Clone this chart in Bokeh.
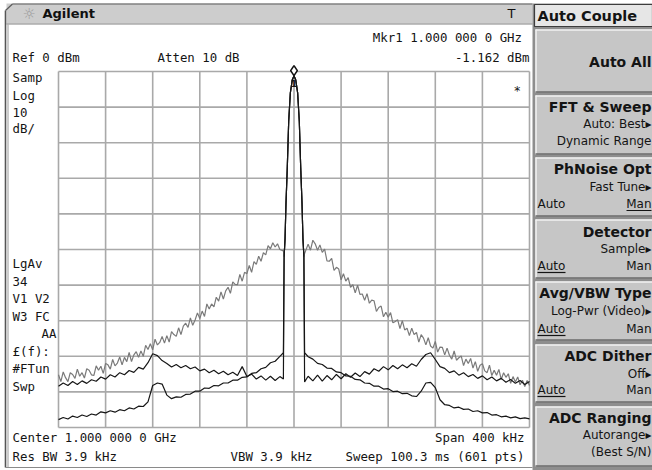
from bokeh.plotting import figure
from bokeh.models import Range1d
from bokeh.core.properties import value
from bokeh.embed import file_html
from bokeh.resources import INLINE

# ---------------- data ----------------
SPAN_KHZ = 400.0          # Span 400 kHz, centre 1.000 000 0 GHz
REF_DBM = 0.0             # Ref 0 dBm
DB_PER_DIV = 10.0         # Log 10 dB/
N_DIV = 10
MKR_KHZ = 0.0
MKR_DBM = -1.162          # Mkr1 reading

FREQ_LEFT = list(range(-200, -11, 4)) + [-9]          # kHz offsets (black traces)
FREQ_RIGHT = [9] + list(range(12, 201, 4))
GREY_FREQ_LEFT = list(range(-200, -11, 2)) + [-9]     # kHz offsets (grey trace)
GREY_FREQ_RIGHT = [9] + list(range(12, 201, 2))

CARRIER_KHZ = [-8.4, -7.6, -6.8, -5.7, -4.5, -3.1, -1.5, 0.0,
               1.5, 3.1, 4.5, 5.7, 6.8, 7.6, 8.4]
CARRIER_DBM = [-52.0, -47.0, -37.0, -27.0, -14.0, -6.0, -2.4, -1.162,
               -2.4, -6.0, -14.0, -27.0, -37.0, -47.0, -52.0]

# grey trace: wide noise hump
GREY_LEFT = [-85.2, -87.1, -84.4, -86.0, -87.1, -84.6, -85.1, -86.2, -83.6, -85.6,
             -84.6, -86.1, -83.5, -83.9, -85.2, -85.4, -82.7, -83.9, -82.8, -84.8,
             -82.0, -82.4, -83.6, -80.9, -82.7, -81.9, -80.2, -82.4, -80.3, -81.5,
             -78.9, -81.5, -79.6, -78.7, -80.3, -78.5, -80.0, -76.9, -78.1, -76.5,
             -78.2, -75.2, -76.8, -76.1, -74.4, -76.3, -74.2, -76.0, -73.1, -73.9,
             -74.4, -72.0, -73.9, -71.5, -70.7, -71.9, -69.2, -71.3, -69.8, -67.8,
             -69.4, -67.3, -68.8, -65.3, -66.7, -65.3, -66.1, -63.4, -64.5, -61.9,
             -63.9, -61.6, -60.6, -62.3, -59.1, -59.8, -59.9, -57.0, -58.9, -56.4,
             -56.8, -54.5, -56.4, -53.4, -54.2, -51.9, -53.3, -50.9, -51.5, -48.9,
             -49.8, -48.1, -49.3, -48.4, -50.0, -50.4]
GREY_RIGHT = [-51.1, -48.5, -50.2, -47.4, -48.4, -50.2, -48.7, -50.8, -49.9, -53.2,
              -53.3, -52.5, -55.9, -55.0, -55.5, -58.5, -56.8, -58.9, -57.9, -60.6,
              -59.9, -62.2, -60.0, -62.6, -62.5, -64.3, -62.4, -65.1, -64.2, -64.4,
              -67.4, -66.3, -65.9, -68.9, -67.6, -69.0, -67.7, -70.6, -70.2, -69.7,
              -72.2, -70.0, -72.6, -72.1, -74.2, -72.1, -73.9, -73.3, -76.0, -73.9,
              -74.9, -76.8, -74.8, -77.1, -77.7, -75.8, -78.8, -77.4, -77.5, -79.6,
              -77.7, -79.7, -80.8, -78.5, -81.1, -80.4, -79.9, -82.6, -80.8, -82.0,
              -80.6, -83.3, -81.5, -84.2, -82.5, -82.1, -84.1, -84.6, -82.5, -85.4,
              -83.9, -85.3, -83.7, -86.5, -84.6, -85.9, -84.9, -87.6, -85.7, -87.2,
              -85.8, -88.0, -86.7, -88.5, -86.8, -88.2]

# black trace B: flat floor with spurs near +-117 kHz
B_LEFT = [-88.4, -87.5, -88.2, -87.1, -87.9, -86.9, -87.6, -86.6, -87.0, -85.8,
          -86.4, -85.2, -85.8, -84.6, -85.2, -84.0, -84.5, -83.1, -83.6, -81.8,
          -79.3, -79.8, -81.2, -82.0, -83.0, -82.3, -83.2, -82.6, -83.5, -83.0,
          -84.1, -83.6, -84.6, -83.9, -84.9, -84.2, -85.2, -84.5, -85.4, -82.9,
          -85.7, -85.0, -86.4, -85.5, -86.7, -85.6, -86.8, -85.7, -86.4]
B_RIGHT = [-87.2, -85.6, -86.9, -85.3, -87.0, -85.4, -86.6, -85.1, -86.3, -84.9,
           -85.9, -84.7, -85.7, -84.3, -85.0, -83.5, -84.2, -82.9, -83.8, -82.6,
           -83.5, -82.4, -83.2, -82.1, -82.8, -80.9, -79.5, -79.0, -80.9, -82.9,
           -83.4, -84.6, -84.1, -85.3, -84.6, -85.7, -85.1, -86.2, -85.5, -86.6,
           -85.8, -86.9, -86.2, -87.3, -86.5, -87.6, -86.8, -87.9, -87.1]

# black trace C: lowest floor, rising towards the carrier
C_LEFT = [-97.8, -97.2, -97.6, -96.8, -97.2, -96.5, -96.9, -96.2, -96.5, -95.6,
          -95.9, -95.3, -95.7, -95.0, -95.3, -94.5, -94.8, -94.0, -94.1, -92.8,
          -88.2, -87.5, -87.8, -90.9, -91.9, -91.4, -91.5, -90.7, -90.6, -89.8,
          -89.8, -88.9, -89.0, -88.2, -88.3, -87.5, -87.5, -86.7, -86.7, -85.9,
          -85.8, -84.8, -84.6, -83.5, -83.1, -81.8, -81.4, -80.0, -79.0]
C_RIGHT = [-79.0, -80.1, -80.8, -82.0, -82.3, -83.3, -83.4, -84.4, -84.6, -85.5,
           -85.6, -86.5, -86.6, -87.5, -87.6, -88.4, -88.4, -89.2, -89.1, -89.9,
           -89.8, -90.5, -90.4, -91.1, -91.3, -89.8, -87.5, -87.3, -88.8, -92.2,
           -93.6, -93.8, -94.5, -94.3, -94.9, -94.8, -95.5, -95.3, -95.9, -95.8,
           -96.5, -96.4, -97.0, -96.8, -97.3, -97.0, -97.5, -97.3, -97.6]

# ---------------- layout (page pixels) ----------------
W, H = 652, 470
GX0, GX1, GY0, GY1 = 58, 529, 71, 427  # graticule box on the page
KPP = SPAN_KHZ / (GX1 - GX0)
DPP = DB_PER_DIV * N_DIV / (GY1 - GY0)
BOTTOM_DBM = REF_DBM - DB_PER_DIV * N_DIV

x_range = Range1d(-SPAN_KHZ / 2 - GX0 * KPP, SPAN_KHZ / 2 + (W - GX1) * KPP)
y_range = Range1d(BOTTOM_DBM - (H - GY1) * DPP, REF_DBM + GY0 * DPP)

p = figure(width=W, height=H, x_range=x_range, y_range=y_range,
           x_axis_type=None, y_axis_type=None, toolbar_location=None,
           output_backend="svg", min_border=0, outline_line_color=None,
           background_fill_color="white", border_fill_color="white")
p.extra_x_ranges = {"px": Range1d(0, W)}
p.extra_y_ranges = {"px": Range1d(H, 0)}

MONO = "DejaVu Sans Mono"
SANS = "DejaVu Sans"
PX = dict(x_range_name="px", y_range_name="px")


def box(l, r, t, b, fill, line=None, lw=1.0):
    p.quad(left=[l], right=[r], top=[t], bottom=[b], fill_color=fill,
           line_color=line, line_width=lw, **PX)


def seg(x0, y0, x1, y1, color, lw=1.0):
    p.segment(x0=[x0], y0=[y0], x1=[x1], y1=[y1], line_color=color, line_width=lw, **PX)


def txt(x, y, s, size="12.4px", font=MONO, align="left", bold=False, color="#141414"):
    p.text(x=[x], y=[y], text=[s], text_font=value(font), text_font_size=size,
           text_align=align, text_baseline="middle",
           text_font_style="bold" if bold else "normal", text_color=color, **PX)


# ---- frame / title bar ----
box(6, 532, 3, 24, "#cdcdcd")
seg(12, 3.5, 532, 3.5, "#5a5a5a", 1.2)
seg(6, 23.5, 532, 23.5, "#9a9a9a", 1)
seg(5, 10, 5, 467, "#555555", 1.6)
seg(7.5, 24, 7.5, 467, "#9a9a9a", 1)
seg(5, 10, 12, 3.5, "#5a5a5a", 1.2)
seg(5, 467, 532, 467, "#8a8a8a", 1.2)
txt(22, 13, "\u263c", size="15px", font=SANS, color="#9a9a9a")
txt(42, 13, "Agilent", size="13px", font=SANS, bold=True, color="#101010")
txt(507, 13, "T", size="13px", font=SANS, color="#101010")

# ---- right soft-key panel ----
box(532, 652, 3, 470, "#8e8e8e")
box(534, 652, 4, 26, "#e6e6e6", "#3c3c3c", 1.2)
txt(537, 15, "Auto Couple", size="14.5px", font=SANS, bold=True)

buttons = [(29, 92), (95, 154), (157, 216), (219, 278), (281, 340), (344, 402), (406, 466)]
for (t, b) in buttons:
    box(535, 652, t, b, "#c6c6c6")
    seg(535, t + 0.5, 652, t + 0.5, "#f2f2f2", 1.5)
    seg(535.5, t, 535.5, b, "#f2f2f2", 1.5)
    seg(535, b - 0.5, 652, b - 0.5, "#6a6a6a", 1.5)

RX = 651
txt(RX, 61, "Auto All", size="14px", font=SANS, bold=True, align="right")

txt(RX, 106, "FFT & Sweep", size="14px", font=SANS, bold=True, align="right")
txt(RX, 123, "Auto: Best\u25b8", size="12px", font=SANS, align="right")
txt(RX, 140, "Dynamic Range", size="12px", font=SANS, align="right")

txt(RX, 168, "PhNoise Opt", size="14px", font=SANS, bold=True, align="right")
txt(RX, 186, "Fast Tune\u25b8", size="12px", font=SANS, align="right")
txt(537, 203, "Auto", size="12px", font=SANS)
txt(RX, 203, "Man", size="12px", font=SANS, align="right")
seg(626, 210, 651, 210, "#141414", 1.2)

txt(RX, 231, "Detector", size="14px", font=SANS, bold=True, align="right")
txt(RX, 248, "Sample\u25b8", size="12px", font=SANS, align="right")
txt(537, 265, "Auto", size="12px", font=SANS)
seg(537, 272, 565, 272, "#141414", 1.2)
txt(RX, 265, "Man", size="12px", font=SANS, align="right")

txt(RX, 292, "Avg/VBW Type", size="14px", font=SANS, bold=True, align="right")
txt(RX, 310, "Log-Pwr (Video)\u25b8", size="12px", font=SANS, align="right")
txt(537, 328, "Auto", size="12px", font=SANS)
seg(537, 335, 565, 335, "#141414", 1.2)
txt(RX, 328, "Man", size="12px", font=SANS, align="right")

txt(RX, 355, "ADC Dither", size="14px", font=SANS, bold=True, align="right")
txt(RX, 373, "Off\u25b8", size="12px", font=SANS, align="right")
txt(537, 389, "Auto", size="12px", font=SANS)
seg(537, 396, 565, 396, "#141414", 1.2)
txt(RX, 389, "Man", size="12px", font=SANS, align="right")

txt(RX, 417, "ADC Ranging", size="14px", font=SANS, bold=True, align="right")
txt(RX, 434, "Autorange\u25b8", size="12px", font=SANS, align="right")
txt(RX, 451, "(Best S/N)", size="12px", font=SANS, align="right")

# ---- graticule (data coordinates) ----
GRID = "#a9a9a9"
for i in range(N_DIV + 1):
    f = -SPAN_KHZ / 2 + i * SPAN_KHZ / N_DIV
    p.segment(x0=[f], y0=[BOTTOM_DBM], x1=[f], y1=[REF_DBM], line_color=GRID, line_width=1.6)
    d = REF_DBM - i * DB_PER_DIV
    p.segment(x0=[-SPAN_KHZ / 2], y0=[d], x1=[SPAN_KHZ / 2], y1=[d], line_color=GRID, line_width=1.6)

# ---- traces ----
p.line(GREY_FREQ_LEFT + CARRIER_KHZ + GREY_FREQ_RIGHT, GREY_LEFT + CARRIER_DBM + GREY_RIGHT,
       line_color="#7a7a7a", line_width=1.2)
FREQ_ALL = FREQ_LEFT + CARRIER_KHZ + FREQ_RIGHT
p.line(FREQ_ALL, C_LEFT + CARRIER_DBM + C_RIGHT, line_color="#161616", line_width=1.2)
p.line(FREQ_ALL, B_LEFT + CARRIER_DBM + B_RIGHT, line_color="#161616", line_width=1.2)

# ---- marker 1 ----
p.scatter(x=[MKR_KHZ], y=[MKR_DBM + 1.4], marker="diamond", size=10,
          fill_color="white", line_color="#141414", line_width=1.6)
p.text(x=[MKR_KHZ], y=[MKR_DBM], text=["1"], text_font=value(SANS), text_font_size="9px",
       text_font_style="bold", text_align="center", text_baseline="middle", y_offset=8,
       text_color="#141414")

# ---- screen annotations ----
txt(529, 37, "Mkr1  1.000 000 0 GHz", align="right")
txt(12, 57, "Ref 0 dBm")
txt(157, 57, "Atten 10 dB")
txt(529, 57, "-1.162 dBm", align="right")
txt(513, 90, "*")
for (yy, s) in [(77, "Samp"), (95, "Log"), (111.5, "10"), (128, "dB/"),
                (263, "LgAv"), (280.5, "34"), (298, "V1  V2"), (315.5, "W3  FC"),
                (350.5, "\u00a3(f):"), (368, "#FTun"), (385.5, "Swp")]:
    txt(12, yy, s)
txt(56, 333, "AA", align="right")
txt(12, 437, "Center 1.000 000 0 GHz")
txt(12, 456, "Res BW 3.9 kHz")
txt(230, 456, "VBW 3.9 kHz")
txt(524, 437, "Span 400 kHz", align="right")
txt(524, 456, "Sweep 100.3 ms (601 pts)", align="right")

open("out.html", "w").write(file_html(p, INLINE))
